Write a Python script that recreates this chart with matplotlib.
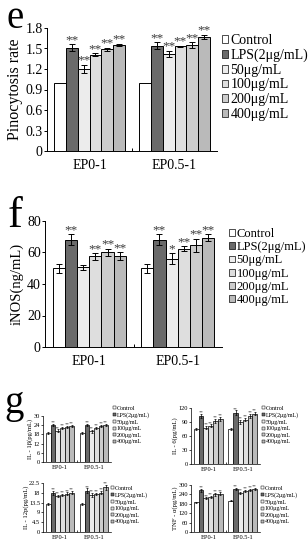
import matplotlib
matplotlib.use('Agg')
import matplotlib.pyplot as plt
from matplotlib.patches import Patch
from matplotlib.ticker import FixedLocator

plt.rcParams['font.family'] = ['Liberation Serif', 'DejaVu Serif']
plt.rcParams['mathtext.fontset'] = 'custom'
plt.rcParams['mathtext.rm'] = 'Liberation Serif'

W, H = 308, 550

groups = ['EP0-1', 'EP0.5-1']
treatments = ['Control', 'LPS(2μg/mL)', '50μg/mL', '100μg/mL', '200μg/mL', '400μg/mL']
bar_colors = ['#ffffff', '#6a6a6a', '#ececec', '#dedede', '#cdcdcd', '#bababa']

# e: pinocytosis rate
pino_means = [[1.00, 1.51, 1.20, 1.41, 1.49, 1.55],
              [1.00, 1.54, 1.42, 1.53, 1.55, 1.67]]
pino_errs = [[0.0, 0.05, 0.06, 0.02, 0.02, 0.02],
             [0.0, 0.05, 0.05, 0.01, 0.04, 0.03]]
pino_stars = [['', '**', '**', '**', '**', '**'],
              ['', '**', '**', '**', '**', '**']]
pino_ticks = [0, 0.3, 0.6, 0.9, 1.2, 1.5, 1.8]

# f: iNOS
inos_means = [[50, 68, 50.5, 57.5, 60, 57.5],
              [50, 68, 56, 62.5, 64.5, 69.5]]
inos_errs = [[3, 3.5, 1.5, 2, 2.5, 2.5],
             [3, 3.5, 3.5, 1.5, 4, 2]]
inos_stars = [['', '**', '', '**', '**', '**'],
              ['', '**', '*', '**', '**', '**']]
inos_ticks = [0, 20, 40, 60, 80]

# g: cytokines
il1_means = [[19, 24, 20.5, 22, 23, 23.5],
             [19, 24, 20, 22, 23.5, 24]]
il1_errs = [[0.6, 0.8, 0.8, 0.8, 0.8, 0.8],
            [0.6, 0.8, 0.8, 0.8, 0.8, 0.8]]
il1_ticks = [0, 6, 12, 18, 24, 30]

il6_means = [[75, 103, 78, 82, 92, 97],
             [75, 110, 90, 95, 103, 108]]
il6_errs = [[2, 5, 3, 3, 4, 4],
            [2, 5, 4, 3, 4, 4]]
il6_ticks = [0, 30, 60, 90, 120]

il12_means = [[13, 18, 16.5, 17, 17.5, 18],
              [13, 19, 17, 17.5, 18, 20.5]]
il12_errs = [[0.5, 0.8, 0.6, 0.6, 0.7, 0.7],
             [0.5, 1.0, 0.8, 0.6, 0.7, 1.0]]
il12_ticks = [0, 4.5, 9, 13.5, 18, 22.5]

tnf_means = [[190, 265, 215, 225, 240, 245],
             [200, 275, 250, 260, 270, 275]]
tnf_errs = [[4, 8, 6, 6, 8, 8],
            [4, 6, 6, 6, 6, 6]]
tnf_ticks = [0, 60, 120, 180, 240, 300]

g_stars = [['', '**', '**', '**', '**', '**'],
           ['', '**', '**', '**', '**', '**']]


def rect(left, top, right, bottom):
    return [left / W, 1 - bottom / H, (right - left) / W, (bottom - top) / H]


def draw_panel(fig, box, means, errs, stars, yticks, ylabel, tick_fs, label_fs,
               star_fs, legend_pos, legend_fs, legend_sp, lw=0.7, cap=2, xpad=4,
               ypad=1, lpad=2, tlen=2):
    ax = fig.add_axes(rect(*box))
    bw = 0.138
    for gi, (m, e, s) in enumerate(zip(means, errs, stars)):
        xs = [gi + (i - 2.5) * bw for i in range(6)]
        ax.bar(xs, m, bw, color=bar_colors, edgecolor='black', linewidth=lw)
        ax.errorbar([x for x, ee in zip(xs, e) if ee > 0],
                    [v for v, ee in zip(m, e) if ee > 0],
                    yerr=[ee for ee in e if ee > 0], fmt='none',
                    ecolor='black', elinewidth=lw, capsize=cap, capthick=lw)
        for x, v, ee, st in zip(xs, m, e, s):
            if st:
                ax.annotate(st, (x, v + ee), xytext=(0, -0.5 * star_fs / 4),
                            textcoords='offset points', ha='center',
                            va='bottom', fontsize=star_fs, color='#3a3a3a')
    ax.set_xlim(-0.5, 1.5)
    ax.set_ylim(yticks[0], yticks[-1])
    ax.set_yticks(yticks)
    ax.set_yticklabels([('%g' % t) for t in yticks])
    ax.set_xticks([0, 1])
    ax.set_xticklabels(groups)
    ax.xaxis.set_minor_locator(FixedLocator([0.5]))
    ax.tick_params(axis='x', which='major', length=0, labelsize=tick_fs, pad=xpad)
    ax.tick_params(axis='x', which='minor', length=tlen, width=lw, direction='in')
    ax.tick_params(axis='y', length=tlen, width=lw, labelsize=tick_fs, pad=ypad)
    for sp in ['top', 'right']:
        ax.spines[sp].set_visible(False)
    for sp in ['left', 'bottom']:
        ax.spines[sp].set_linewidth(lw)
    ax.set_ylabel(ylabel, fontsize=label_fs, labelpad=lpad)
    handles = [Patch(facecolor=c, edgecolor='black', linewidth=lw * 0.7)
               for c in bar_colors]
    fig.legend(handles, treatments, loc='upper left',
               bbox_to_anchor=(legend_pos[0] / W, 1 - legend_pos[1] / H),
               frameon=False, fontsize=legend_fs, handlelength=0.45,
               handleheight=0.45, handletextpad=0.15, labelspacing=legend_sp,
               borderpad=0, borderaxespad=0)
    return ax


fig = plt.figure(figsize=(W / 100, H / 100), dpi=100)

draw_panel(fig, (47, 28, 217, 151), pino_means, pino_errs, pino_stars,
           pino_ticks, 'Pinocytosis rate', 10, 11.5, 9.5, (222, 34), 10, 0.12,
           xpad=6)
draw_panel(fig, (45, 221, 222, 347), inos_means, inos_errs, inos_stars,
           inos_ticks, 'iNOS(ng/mL)', 10, 10.5, 9.5, (229, 228), 9, 0.1,
           xpad=6)

small = dict(tick_fs=4.6, label_fs=4.8, star_fs=3.5, legend_fs=4.3,
             legend_sp=0.25, lw=0.5, cap=1, xpad=2, ypad=0.5, lpad=0.5,
             tlen=1.5)
draw_panel(fig, (43, 416, 111, 462), il1_means, il1_errs, g_stars, il1_ticks,
           'IL - 1β(pg/mL)', legend_pos=(113, 406), **small)
draw_panel(fig, (191, 408, 260, 464), il6_means, il6_errs, g_stars, il6_ticks,
           'IL - 6(pg/mL)', legend_pos=(262, 406), **small)
draw_panel(fig, (43, 483, 111, 532), il12_means, il12_errs, g_stars, il12_ticks,
           'IL - 12p(pg/mL)', legend_pos=(111, 486), **small)
draw_panel(fig, (191, 485, 260, 532), tnf_means, tnf_errs, g_stars, tnf_ticks,
           'TNF - α(pg/mL)', legend_pos=(261, 486), **small)

fig.text(6 / W, 1 - 27.5 / H, 'e', fontsize=28, va='baseline')
fig.text(8 / W, 1 - 227 / H, 'f', fontsize=32, va='baseline')
fig.text(4 / W, 1 - 413 / H, 'g', fontsize=28, va='baseline')

fig.savefig('out.png', dpi=100)
